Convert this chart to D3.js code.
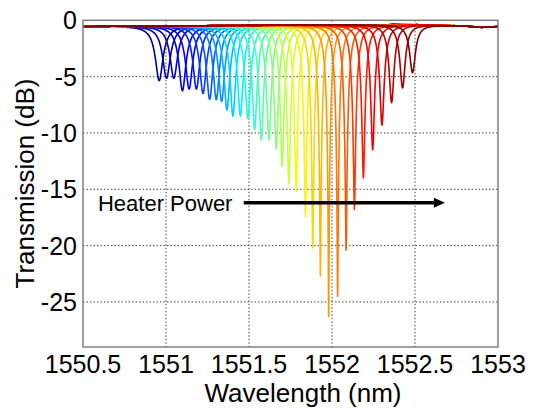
<!DOCTYPE html>
<html>
<head>
<meta charset="utf-8">
<script src="https://cdn.jsdelivr.net/npm/d3@7"></script>
<style>
  html, body { margin: 0; padding: 0; background: #fff; }
  svg { display: block; }
  text { font-family: "Liberation Sans", Arial, sans-serif; fill: #000; }
</style>
</head>
<body>
<svg id="chart" width="533" height="409"></svg>
<script>
// ---- data ----
// resonance centre wavelength (nm) of each spectrum, in order of increasing heater power
const dipCenters = [1550.959, 1551.003, 1551.047, 1551.099, 1551.139, 1551.183, 1551.223, 1551.263,
  1551.303, 1551.335, 1551.367, 1551.403, 1551.448, 1551.493, 1551.534, 1551.574, 1551.620,
  1551.664, 1551.700, 1551.740, 1551.784, 1551.840, 1551.884, 1551.930, 1551.980, 1552.034,
  1552.085, 1552.135, 1552.189, 1552.245, 1552.301, 1552.359, 1552.425, 1552.485];
// transmission at the bottom of each dip (dB)
const dipDepths = [-5.35, -5.15, -5.15, -6.25, -6.1, -6.1, -6.5, -7.0, -7.05, -7.2, -7.95, -8.5,
  -8.5, -8.7, -9.7, -10.6, -10.6, -11.4, -13.0, -14.5, -15.2, -17.4, -20.2, -22.7, -26.3, -24.5,
  -20.4, -16.8, -14.0, -11.5, -9.3, -7.3, -6.0, -4.65];
// half width at half maximum of each resonance (nm)
const dipWidths = [0.037, 0.037, 0.036, 0.036, 0.036, 0.035, 0.035, 0.035, 0.034, 0.034, 0.034,
  0.033, 0.033, 0.033, 0.032, 0.032, 0.032, 0.031, 0.031, 0.031, 0.030, 0.030, 0.030, 0.029,
  0.029, 0.029, 0.029, 0.028, 0.028, 0.028, 0.028, 0.027, 0.027, 0.027];
// off-resonance transmission level (dB) read along the top of the plot
const baseWl = [1550.5, 1551.0, 1551.5, 1552.0, 1552.5, 1552.8, 1552.9, 1553.0];
const baseDb = [-0.55, -0.5, -0.45, -0.4, -0.38, -0.5, -0.62, -0.55];

const xTicks = [1550.5, 1551, 1551.5, 1552, 1552.5, 1553];
const xTickLabels = ["1550.5", "1551", "1551.5", "1552", "1552.5", "1553"];
const yTicks = [0, -5, -10, -15, -20, -25];
const yTickLabels = ["0", "-5", "-10", "-15", "-20", "-25"];
const xDomain = [1550.5, 1553];
const yDomain = [-29, 0];
const arrowLabel = "Heater Power";
const arrowFrom = [1551.468, -16.2];
const arrowTo = [1552.68, -16.2];
const arrowTextAt = [1550.59, -16.2];

// ---- layout ----
const svg = d3.select("#chart");
const L = 83, R = 498, T = 20.3, B = 347;
const x = d3.scaleLinear().domain(xDomain).range([L, R]);
const y = d3.scaleLinear().domain(yDomain).range([B, T]);

// jet colour map
const jet = d3.scaleLinear()
  .domain([0, 0.125, 0.375, 0.625, 0.875, 1])
  .range(["#00008f", "#0000ff", "#00ffff", "#ffff00", "#ff0000", "#800000"])
  .interpolate(d3.interpolateRgb);

svg.append("rect").attr("width", 533).attr("height", 409).attr("fill", "#fff");

svg.append("defs").append("clipPath").attr("id", "clip")
  .append("rect").attr("x", L).attr("y", T - 2).attr("width", R - L).attr("height", B - T + 2);

// grid
const grid = svg.append("g");
grid.selectAll("line.vx").data(xTicks.slice(1, -1)).enter().append("line")
  .attr("x1", d => x(d)).attr("x2", d => x(d)).attr("y1", T).attr("y2", B)
  .attr("stroke", "#444").attr("stroke-width", 1).attr("stroke-dasharray", "1.5,2");
grid.selectAll("line.hy").data(yTicks.slice(1)).enter().append("line")
  .attr("y1", d => y(d)).attr("y2", d => y(d)).attr("x1", L).attr("x2", R)
  .attr("stroke", "#444").attr("stroke-width", 1).attr("stroke-dasharray", "1.5,2");

// spectra (Lorentzian resonance shape through the read centre, depth and width)
const base = d3.scaleLinear().domain(baseWl).range(baseDb);
const grid0 = d3.range(xDomain[0], xDomain[1] + 1e-9, 0.0015);
const line = d3.line().x(d => x(d[0])).y(d => y(d[1]));
const n = dipCenters.length;
const curves = svg.append("g").attr("clip-path", "url(#clip)");
dipCenters.forEach((c, i) => {
  const g = dipWidths[i];
  const b0 = base(c);
  const A = 1 - Math.pow(10, (dipDepths[i] - b0) / 10);
  const wls = grid0.concat([c]).sort((a, b) => a - b);
  const pts = wls.map(w => {
    const dd = (w - c) / g;
    return [w, base(w) + 10 * Math.log10(1 - A / (1 + dd * dd))];
  });
  curves.append("path").datum(pts)
    .attr("d", line).attr("fill", "none")
    .attr("stroke", jet(i / (n - 1))).attr("stroke-width", 1.6)
    .attr("stroke-linejoin", "round");
});

// frame
svg.append("rect").attr("x", L).attr("y", T).attr("width", R - L).attr("height", B - T)
  .attr("fill", "none").attr("stroke", "#808080").attr("stroke-width", 1.5);

// tick labels
svg.selectAll("text.xt").data(xTicks).enter().append("text")
  .attr("x", d => x(d)).attr("y", 373).attr("text-anchor", "middle")
  .attr("font-size", 25).text((d, i) => xTickLabels[i]);
svg.selectAll("text.yt").data(yTicks).enter().append("text")
  .attr("x", 77).attr("y", d => y(d) + 9).attr("text-anchor", "end")
  .attr("font-size", 25).text((d, i) => yTickLabels[i]);

// axis labels
svg.append("text").attr("x", 303).attr("y", 402).attr("text-anchor", "middle")
  .attr("font-size", 26).text("Wavelength (nm)");
svg.append("text").attr("transform", "translate(34,183.5) rotate(-90)")
  .attr("text-anchor", "middle").attr("font-size", 26).text("Transmission (dB)");

// annotation arrow
svg.append("text").attr("x", x(arrowTextAt[0])).attr("y", y(arrowTextAt[1]) + 8)
  .attr("font-size", 22).text(arrowLabel);
const ax1 = x(arrowFrom[0]), ax2 = x(arrowTo[0]), ay = y(arrowFrom[1]);
svg.append("line").attr("x1", ax1).attr("x2", ax2 - 8).attr("y1", ay).attr("y2", ay)
  .attr("stroke", "#000").attr("stroke-width", 3.5);
svg.append("path")
  .attr("d", `M${ax2},${ay} L${ax2 - 11},${ay - 5} L${ax2 - 11},${ay + 5} Z`)
  .attr("fill", "#000");
</script>
</body>
</html>
